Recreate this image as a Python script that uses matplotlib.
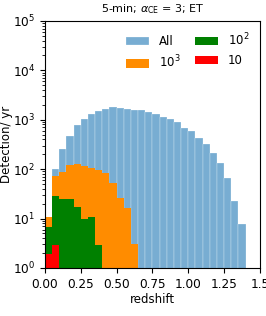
import numpy as np
import matplotlib
matplotlib.use("Agg")
import matplotlib.pyplot as plt

bin_width = 0.05

all_left = [0.05, 0.10, 0.15, 0.20, 0.25, 0.30, 0.35, 0.40, 0.45, 0.50, 0.55, 0.60, 0.65,
            0.70, 0.75, 0.80, 0.85, 0.90, 0.95, 1.00, 1.05, 1.10, 1.15, 1.20, 1.25, 1.30, 1.35]
all_vals = [100, 253, 464, 785, 1040, 1290, 1520, 1670, 1780, 1730, 1660, 1590, 1560,
            1450, 1300, 1120, 1040, 905, 670, 585, 423, 318, 210, 134, 66, 23, 7.8]

e3_left = [0.00, 0.05, 0.10, 0.15, 0.20, 0.25, 0.30, 0.35, 0.40, 0.45, 0.50, 0.55, 0.60]
e3_vals = [10.6, 73, 87, 120, 126, 114, 106, 95, 82, 53, 26, 16.6, 3.0]

e2_left = [0.00, 0.05, 0.10, 0.15, 0.20, 0.25, 0.30, 0.35]
e2_vals = [6.9, 29, 24.6, 25.4, 17.5, 9.8, 10.8, 2.9]

e1_left = [0.00, 0.05]
e1_vals = [1.9, 2.9]

xticks = [0.0, 0.25, 0.5, 0.75, 1.0, 1.25, 1.5]
xtick_labels = ["0.00", "0.25", "0.50", "0.75", "1.00", "1.25", "1.5"]

fig = plt.figure(figsize=(2.66, 3.16), dpi=100)
ax = fig.add_axes([0.169, 0.152, 0.808, 0.782])

ax.bar(all_left, all_vals, width=bin_width, align='edge', color='C0', alpha=0.6, label='All',
       edgecolor='white', linewidth=0.3)
ax.bar(e3_left, e3_vals, width=bin_width, align='edge', color='darkorange', label=r'$10^3$', linewidth=0)
ax.bar(e2_left, e2_vals, width=bin_width, align='edge', color='green', label=r'$10^2$', linewidth=0)
ax.bar(e1_left, e1_vals, width=bin_width, align='edge', color='red', label='10', linewidth=0)

ax.set_yscale('log')
ax.set_ylim(1, 1e5)
ax.set_xlim(0, 1.5)
ax.set_xticks(xticks)
ax.set_xticklabels(xtick_labels)
ax.tick_params(labelsize=8.7)
ax.set_xlabel('redshift', fontsize=8.5, labelpad=2)
ax.set_ylabel('Detection/ yr', fontsize=8.5)
ax.yaxis.set_label_coords(-0.15, 0.5)
ax.set_title(r'5-min; $\alpha_{\rm CE}$ = 3; ET', fontsize=8)

ax.legend(ncol=2, frameon=False, loc='upper right', fontsize=8.5,
          handlelength=2.0, columnspacing=1.2)

fig.savefig('out.png', dpi=100)
